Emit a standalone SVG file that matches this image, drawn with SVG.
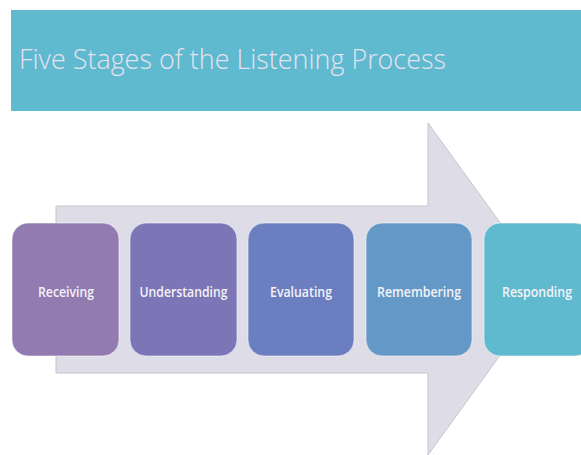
<svg xmlns="http://www.w3.org/2000/svg" width="581" height="455" viewBox="0 0 581 455">
  <style>
    .title { font-family: "Open Sans", "Liberation Sans", sans-serif; font-weight: 300; font-size: 28px; fill: #E6E3F0; }
    .stage rect { stroke: #ffffff; stroke-opacity: 0.55; stroke-width: 1; }
    .stage text { font-family: "Open Sans", "Liberation Sans", sans-serif; font-weight: 600; font-size: 15px; fill: #F4F2F8; text-anchor: middle; }
    .arrow { fill: #DEDCE6; stroke: #C6C4CE; stroke-width: 1; }
  </style>

  <rect width="581" height="455" fill="#ffffff"/>

  <!-- heading bar -->
  <g id="heading">
    <rect x="11" y="10" width="580" height="101" fill="#5FB9CF"/>
    <text class="title" x="19" y="69" textLength="427" lengthAdjust="spacingAndGlyphs">Five Stages of the Listening Process</text>
  </g>

  <!-- large background arrow -->
  <g id="connectors">
    <polygon class="arrow" points="56,206 428,206 428,123 548,289 428,455 428,373 56,373"/>
  </g>

  <g id="receiving" class="stage">
    <rect x="12" y="223" width="107" height="133" rx="16" fill="#917BB0"/>
    <text x="66" y="297" textLength="56" lengthAdjust="spacingAndGlyphs">Receiving</text>
  </g>
  <g id="understanding" class="stage">
    <rect x="130" y="223" width="107" height="133" rx="16" fill="#7C75B6"/>
    <text x="183.5" y="297" textLength="88" lengthAdjust="spacingAndGlyphs">Understanding</text>
  </g>
  <g id="evaluating" class="stage">
    <rect x="248" y="223" width="106" height="133" rx="16" fill="#6B7EBF"/>
    <text x="301" y="297" textLength="62" lengthAdjust="spacingAndGlyphs">Evaluating</text>
  </g>
  <g id="remembering" class="stage">
    <rect x="366" y="223" width="106" height="133" rx="16" fill="#6499C7"/>
    <text x="419" y="297" textLength="84" lengthAdjust="spacingAndGlyphs">Remembering</text>
  </g>
  <g id="responding" class="stage">
    <rect x="484" y="223" width="107" height="133" rx="16" fill="#5FBACF"/>
    <text x="537" y="297" textLength="70" lengthAdjust="spacingAndGlyphs">Responding</text>
  </g>
</svg>
